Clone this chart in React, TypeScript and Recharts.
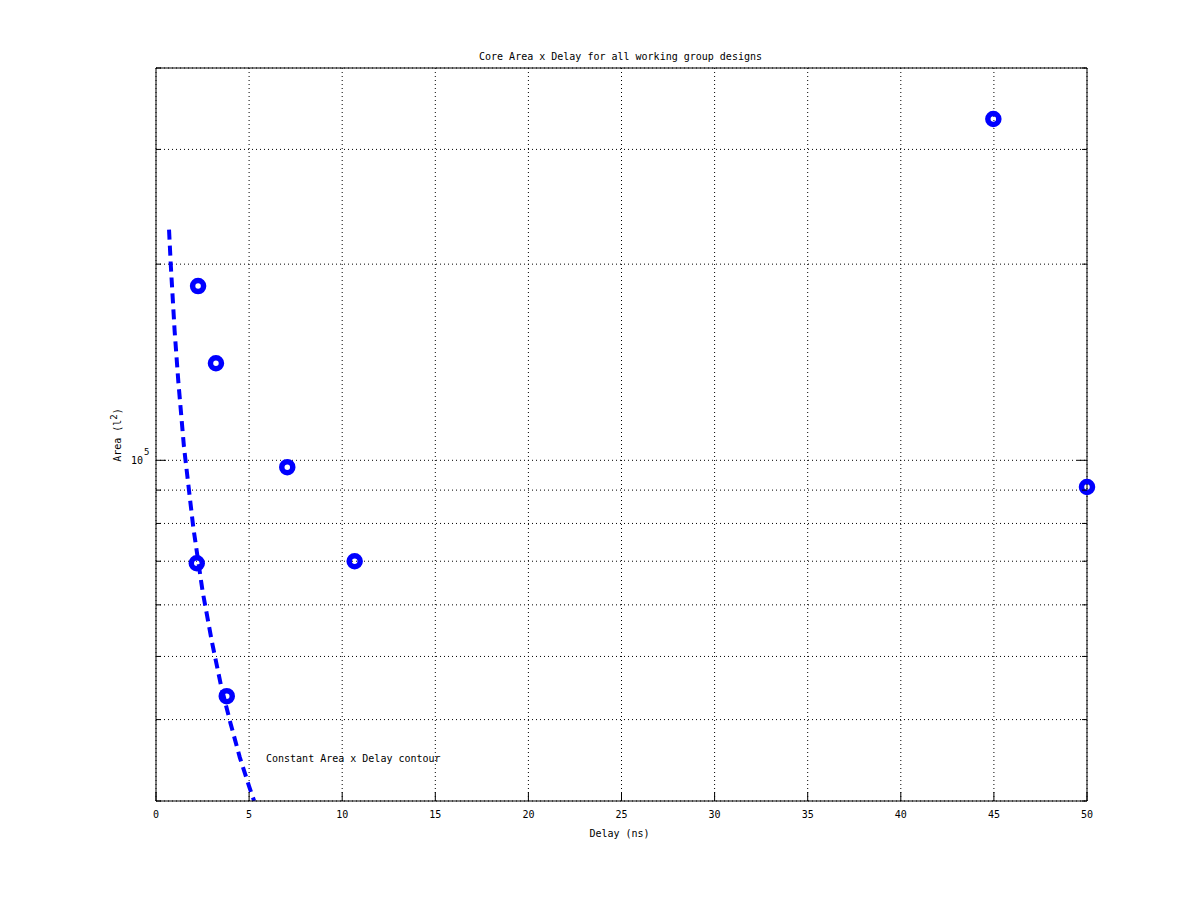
import { ComposedChart, XAxis, YAxis, CartesianGrid, Scatter, Line } from 'recharts';

// measured designs: delay (ns) vs core area (l^2)
const delayNs = [2.26, 3.22, 7.05, 10.67, 2.19, 3.8, 44.97, 50.0];
const areaL2 = [185100, 140900, 97600, 70000, 69500, 43450, 334000, 91000];

// constant Area x Delay contour
const contourDelay = [0.7, 0.8, 1.0, 1.2, 1.5, 2.0, 2.5, 3.0, 3.5, 4.0, 4.5, 5.0, 5.27];
const contourArea = [226000, 198000, 158000, 132000, 105000, 79000, 63000, 52700, 45000, 39500, 35000, 31600, 30000];

const xTicks = [0, 5, 10, 15, 20, 25, 30, 35, 40, 45, 50];
const yTicks = [30000, 40000, 50000, 60000, 70000, 80000, 90000, 100000, 200000, 300000, 400000];

const designs = delayNs.map((d, i) => ({ d, a: areaL2[i] }));
const contour = contourDelay.map((d, i) => ({ d, a: contourArea[i] }));

const FONT = '"DejaVu Sans Mono", monospace';
const BLUE = '#0000ff';

const tickLen = (v: number) => (v === 100000 ? 10 : 5);

const BottomTick = ({ x, y, payload }: any) => (
  <g>
    <line x1={x} y1={y} x2={x} y2={y - 9} stroke="#000" />
    <text x={x} y={y + 17} textAnchor="middle" fontFamily={FONT} fontSize={10} fill="#000">
      {payload.value}
    </text>
  </g>
);

const TopTick = ({ x, y }: any) => <line x1={x} y1={y} x2={x} y2={y + 9} stroke="#000" />;

const LeftTick = ({ x, y, payload }: any) => (
  <g>
    <line x1={x} y1={y} x2={x + tickLen(payload.value)} y2={y} stroke="#000" />
    {payload.value === 100000 && (
      <g fontFamily={FONT} fill="#000">
        <text x={x - 13} y={y + 4} textAnchor="end" fontSize={10}>10</text>
        <text x={x - 12} y={y - 5} fontSize={9}>5</text>
      </g>
    )}
  </g>
);

const RightTick = ({ x, y, payload }: any) => (
  <line x1={x} y1={y} x2={x - tickLen(payload.value)} y2={y} stroke="#000" />
);

const Ring = ({ cx, cy }: any) => (
  <circle cx={cx} cy={cy} r={5.5} fill="none" stroke={BLUE} strokeWidth={5.5} />
);

export default function App() {
  const txt = { position: 'absolute' as const, fontFamily: FONT, fontSize: 10, color: '#000', whiteSpace: 'nowrap' as const, lineHeight: '12px' };
  return (
    <div style={{ position: 'absolute', left: 0, top: 0, width: 1201, height: 901, background: '#fff' }}>
      <ComposedChart width={1201} height={901} margin={{ top: 58, right: 104, bottom: 70, left: 116 }}>
        <CartesianGrid stroke="#000" strokeDasharray="1 3" />
        <XAxis
          dataKey="d"
          type="number"
          domain={[0, 50]}
          ticks={xTicks}
          interval={0}
          height={30}
          tickSize={0}
          tickMargin={0}
          axisLine={{ stroke: '#000' }}
          tickLine={false}
          tick={BottomTick}
        />
        <XAxis
          xAxisId="top"
          orientation="top"
          type="number"
          domain={[0, 50]}
          ticks={xTicks}
          interval={0}
          height={10}
          tickSize={0}
          tickMargin={0}
          axisLine={{ stroke: '#000' }}
          tickLine={false}
          tick={TopTick}
        />
        <YAxis
          dataKey="a"
          scale="log"
          type="number"
          domain={[30000, 400000]}
          allowDataOverflow
          ticks={yTicks}
          interval={0}
          width={40}
          tickSize={0}
          tickMargin={0}
          axisLine={{ stroke: '#000' }}
          tickLine={false}
          tick={LeftTick}
        />
        <YAxis
          yAxisId="right"
          orientation="right"
          scale="log"
          type="number"
          domain={[30000, 400000]}
          allowDataOverflow
          ticks={yTicks}
          interval={0}
          width={10}
          tickSize={0}
          tickMargin={0}
          axisLine={{ stroke: '#000' }}
          tickLine={false}
          tick={RightTick}
        />
        <Line
          data={contour}
          dataKey="a"
          type="linear"
          stroke={BLUE}
          strokeWidth={4}
          strokeDasharray="10 6"
          dot={false}
          activeDot={false}
          isAnimationActive={false}
        />
        <Scatter data={designs} dataKey="a" shape={Ring} isAnimationActive={false} />
      </ComposedChart>
      <div style={{ ...txt, left: 0, width: 1241, top: 51, textAlign: 'center' }}>
        Core Area x Delay for all working group designs
      </div>
      <div style={{ ...txt, left: 0, width: 1239, top: 828, textAlign: 'center' }}>Delay (ns)</div>
      <div style={{ ...txt, left: 266, top: 753 }}>Constant Area x Delay contour</div>
      <div
        style={{
          ...txt,
          left: 118,
          top: 435,
          transform: 'translate(-50%, -50%) rotate(-90deg)',
        }}
      >
        Area (l<sup style={{ fontSize: 9, verticalAlign: 'super', lineHeight: 0 }}>2</sup>)
      </div>
    </div>
  );
}
